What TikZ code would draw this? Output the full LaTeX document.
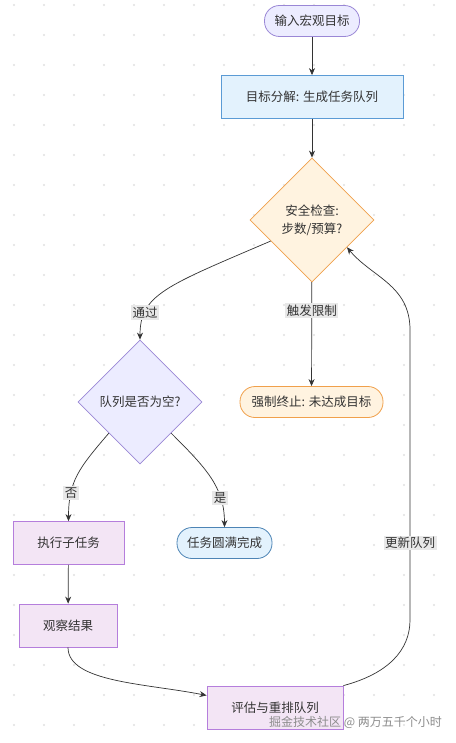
\documentclass[tikz,border=0pt]{standalone}
\usepackage{fontspec}
\setmainfont{Noto Sans CJK SC}
\usetikzlibrary{shapes.geometric,arrows.meta}

\definecolor{lavfill}{HTML}{ECECFF}
\definecolor{lavline}{HTML}{9A87D6}
\definecolor{bluefill}{HTML}{E3F2FD}
\definecolor{blueline}{HTML}{5B9BD5}
\definecolor{orgfill}{HTML}{FFF3E0}
\definecolor{orgline}{HTML}{F0A04B}
\definecolor{purfill}{HTML}{F3E5F5}
\definecolor{purline}{HTML}{B57EDC}
\definecolor{inkgray}{HTML}{333333}

\tikzset{
    base/.style={draw, line width=0.8pt, text=inkgray, font=\fontsize{12.5}{15}\selectfont, align=center},
    stadium/.style={base, rounded corners=15pt, minimum height=31pt, inner xsep=10pt},
    taskbox/.style={base, rectangle, minimum height=43pt},
    decision/.style={base, diamond, inner sep=0pt, minimum size=124pt},
    flow/.style={draw=inkgray, line width=0.7pt, -{Stealth[length=7pt,width=6pt]}},
    elabel/.style={fill=black!9, text=inkgray, inner sep=1.5pt, font=\fontsize{12.5}{15}\selectfont}
}

\begin{document}
\begin{tikzpicture}[x=1pt,y=-1pt]
    \useasboundingbox (0,0) rectangle (455,743);
    \fill[white] (0,0) rectangle (455,743);

    % Dot grid
    \foreach \i in {0,...,14} {
        \foreach \j in {0,...,24} {
            \pgfmathsetmacro\x{14 + 30*\i}
            \pgfmathsetmacro\y{5 + 30*\j}
            \fill[black!12] (\x,\y) circle (1.1pt);
        }
    }

    % Nodes
    \node[stadium, fill=lavfill, draw=lavline, minimum width=95pt] (start) at (312,21) {输入宏观目标};
    \node[taskbox, fill=bluefill, draw=blueline, minimum width=182pt] (split) at (312,97) {目标分解: 生成任务队列};
    \node[decision, fill=orgfill, draw=orgline] (safe) at (312,220) {安全检查:\\[3pt]步数/预算?};
    \node[stadium, fill=orgfill, draw=orgline, minimum width=143pt] (stop) at (311.5,402) {强制终止: 未达成目标};
    \node[decision, fill=lavfill, draw=lavline] (queue) at (140,402) {队列是否为空?};
    \node[taskbox, fill=purfill, draw=purline, minimum width=111pt] (exec) at (68.5,543) {执行子任务};
    \node[stadium, fill=bluefill, draw=blueline!85!black, minimum width=95pt] (done) at (224.5,543) {任务圆满完成};
    \node[taskbox, fill=purfill, draw=purline, minimum width=98pt] (obs) at (68,625.5) {观察结果};
    \node[taskbox, fill=purfill, draw=purline, minimum width=136pt] (eval) at (275,707.5) {评估与重排队列};

    % Connectors
    \draw[flow] (start) -- (split);
    \draw[flow] (split) -- (safe);
    \draw[flow] (safe) -- node[elabel, pos=0.27] {触发限制} (stop);
    \draw[flow] (safe.207) .. controls +(-105,45) and +(0,-45) .. node[elabel, pos=0.76] {通过} (queue.north);
    \draw[flow] (queue.south west) .. controls +(-30,35) and +(0,-40) .. node[elabel, pos=0.72] {否} (exec.north);
    \draw[flow] (queue.south east) .. controls +(35,35) and +(0,-40) .. node[elabel, pos=0.72] {是} (done.north);
    \draw[flow] (exec) -- (obs);
    \draw[flow] (obs.south) .. controls +(0,35) and +(-60,-12) .. (eval.170);
    \draw[flow] (eval.north east) .. controls +(45,-12) and +(0,30) .. (410,620)
        -- node[elabel, pos=0.265] {更新队列} (410,330)
        .. controls +(0,-45) and +(25,30) .. (safe.-38);

    % Watermark
    \node[anchor=east, text=black!45, inner sep=0pt, font=\fontsize{12}{14}\selectfont] (mark) at (442,722) {掘金技术社区 @ 两万五千个小时};
\end{tikzpicture}
\end{document}
